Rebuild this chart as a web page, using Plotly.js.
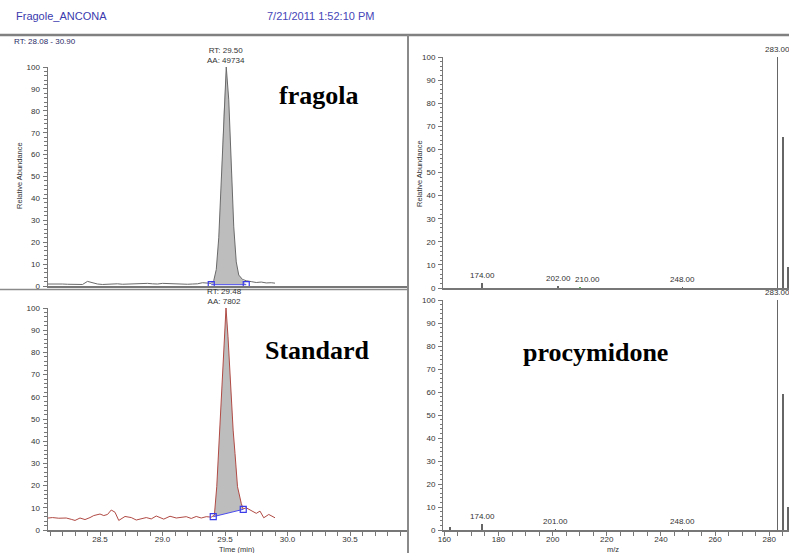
<!DOCTYPE html>
<html>
<head>
<meta charset="utf-8">
<script src="https://cdn.plot.ly/plotly-3.0.1.min.js"></script>
<style>
html,body{margin:0;padding:0;background:#fff;}
#chart{width:789px;height:553px;}
</style>
</head>
<body>
<div id="chart"></div>
<script>
// ---------- data ----------
const fileName = "Fragole_ANCONA";
const stamp = "7/21/2011 1:52:10 PM";
const rtRangeLabel = "RT: 28.08 - 30.90";

// fragola chromatogram (time, relative abundance)
const tFragola = [28.08,28.12,28.16,28.20,28.24,28.28,28.32,28.36,28.40,28.44,28.48,28.52,28.56,28.60,28.64,28.68,28.72,28.76,28.80,28.84,28.88,28.92,28.96,29.00,29.04,29.08,29.12,29.16,29.20,29.24,29.28,29.32,29.36,29.39,29.41,29.43,29.45,29.47,29.49,29.51,29.53,29.55,29.57,29.59,29.61,29.64,29.67,29.71,29.75,29.79,29.83,29.87,29.90];
const iFragola = [0.9,1.0,0.8,0.9,0.8,0.7,0.8,0.7,2.1,1.4,0.9,0.7,0.8,1.2,1.0,0.8,0.9,0.7,0.9,1.0,1.2,1.0,0.9,1.2,1.1,0.9,0.8,0.7,0.8,0.9,1.0,1.5,1.3,1.2,2.5,7.5,22,48,80,100,85,57,27,11,5,3,2.4,2.0,1.6,1.8,1.4,1.5,1.3];
const blFragolaT = [29.39, 29.67];
const blFragolaI = [0.6, 0.6];
const rtFragola = "29.50", aaFragola = "49734";

// standard chromatogram
const tStandard = [28.07,28.12,28.17,28.23,28.27,28.30,28.34,28.38,28.42,28.45,28.50,28.53,28.56,28.59,28.62,28.65,28.70,28.75,28.79,28.83,28.87,28.91,28.95,29.01,29.06,29.11,29.15,29.19,29.23,29.27,29.31,29.35,29.39,29.415,29.434,29.45,29.466,29.485,29.508,29.524,29.54,29.55,29.565,29.58,29.60,29.63,29.645,29.67,29.70,29.73,29.75,29.78,29.81,29.85,29.88,29.90];
const iStandard = [5.3,5.6,5.3,5.4,4.8,4.3,5.4,4.7,5.6,6.5,7.2,6.5,7.0,9.0,8.0,4.3,6.1,5.6,4.5,5.2,5.6,5.0,6.3,4.9,6.2,5.4,5.8,6.0,5.2,6.1,5.4,6.0,5.8,6.7,19.5,38,57,80,100,87,70,57,45,34.5,19.5,12,9.5,10,9,8,7.5,8.5,5.5,7,6,5.5];
const blStandardT = [29.406, 29.646];
const blStandardI = [6.0, 9.3];
const rtStandard = "29.48", aaStandard = "7802";

// mass spectra
const mzFragola = [174, 202, 210, 248, 283, 285, 287];
const abFragola = [2.0, 0.8, 0.5, 0.5, 100, 65.5, 9];
const labFragola = [174, 202, 210, 248, 283];
const mzStandard = [162, 174, 201, 248, 283, 285, 287];
const abStandard = [1.2, 2.5, 0.5, 0.5, 100, 59, 10];
const labStandard = [174, 201, 248, 283];

const panelLabels = ["fragola", "Standard", "procymidone"];

// ---------- geometry helpers ----------
const W = 789, H = 553;
const px = x => x / W;
const py = y => 1 - y / H;

const leftX0 = 47.5, leftX1 = 408, tStart = 28.08, pxPerMin = 125;
const tEnd = tStart + (leftX1 - leftX0) / pxPerMin;
const mzStart = 159.5, mzEnd = 287.3;

const gray = '#777';
const tickFont = {family: 'Liberation Sans, Arial, sans-serif', size: 8, color: '#333'};

function fillPoly(t, v, blT, blV) {
  const xs = [blT[0]], ys = [blV[0]];
  for (let k = 0; k < t.length; k++) {
    if (t[k] > blT[0] && t[k] < blT[1]) { xs.push(t[k]); ys.push(v[k]); }
  }
  xs.push(blT[1]); ys.push(blV[1]);
  xs.push(blT[0]); ys.push(blV[0]);
  return {xs, ys};
}
const fF = fillPoly(tFragola, iFragola, blFragolaT, blFragolaI);
const fS = fillPoly(tStandard, iStandard, blStandardT, blStandardI);

const traces = [
  {x: fF.xs, y: fF.ys, xaxis: 'x', yaxis: 'y', type: 'scatter', mode: 'lines', fill: 'toself',
   fillcolor: '#bdbdbd', line: {width: 0}, hoverinfo: 'skip'},
  {x: tFragola, y: iFragola, xaxis: 'x', yaxis: 'y', type: 'scatter', mode: 'lines',
   line: {color: '#6a6a6a', width: 1}},
  {x: blFragolaT, y: blFragolaI, xaxis: 'x', yaxis: 'y', type: 'scatter', mode: 'lines+markers',
   line: {color: '#4a4af0', width: 1}, marker: {symbol: 'square-open', size: 6, color: '#3a3ae8', line: {width: 1.2}}},

  {x: fS.xs, y: fS.ys, xaxis: 'x2', yaxis: 'y2', type: 'scatter', mode: 'lines', fill: 'toself',
   fillcolor: '#bdbdbd', line: {width: 0}, hoverinfo: 'skip'},
  {x: tStandard, y: iStandard, xaxis: 'x2', yaxis: 'y2', type: 'scatter', mode: 'lines',
   line: {color: '#b04a44', width: 1}},
  {x: blStandardT, y: blStandardI, xaxis: 'x2', yaxis: 'y2', type: 'scatter', mode: 'lines+markers',
   line: {color: '#4a4af0', width: 1}, marker: {symbol: 'square-open', size: 6, color: '#3a3ae8', line: {width: 1.2}}},

  {x: mzFragola, y: abFragola, xaxis: 'x3', yaxis: 'y3', type: 'bar', width: 0.6,
   marker: {color: mzFragola.map(m => m === 210 ? '#5cb85c' : '#666666'), line: {width: 0}}},
  {x: mzStandard, y: abStandard, xaxis: 'x4', yaxis: 'y4', type: 'bar', width: 0.6,
   marker: {color: '#666666', line: {width: 0}}}
];

function yAxis(domTop, domBot, anchor) {
  return {
    domain: [py(domBot), py(domTop)], range: [0, 100], anchor: anchor,
    tickmode: 'linear', tick0: 0, dtick: 10, ticks: 'outside', ticklen: 4, tickcolor: gray, tickwidth: 1,
    minor: {dtick: 2, tick0: 0, ticks: 'outside', ticklen: 2.5, tickcolor: gray, tickwidth: 1},
    showline: true, linecolor: gray, linewidth: 1, showgrid: false, zeroline: false,
    tickfont: tickFont, ticklabelstandoff: 1, fixedrange: true
  };
}

const layout = {
  width: W, height: H, margin: {l: 0, r: 0, t: 0, b: 0}, showlegend: false,
  paper_bgcolor: '#fff', plot_bgcolor: 'rgba(0,0,0,0)', bargap: 0,
  font: tickFont,
  xaxis: {domain: [px(leftX0), px(leftX1)], range: [tStart, tEnd], anchor: 'y',
    showticklabels: false, ticks: '', showline: true, linecolor: gray, linewidth: 1.5, showgrid: false, zeroline: false},
  yaxis: yAxis(67, 286, 'x'),
  xaxis2: {domain: [px(leftX0), px(leftX1)], range: [tStart, tEnd], anchor: 'y2',
    tickmode: 'linear', tick0: 28.5, dtick: 0.5, tickformat: '.1f', ticks: 'outside', ticklen: 4, tickcolor: gray,
    minor: {dtick: 0.1, tick0: 28.1, ticks: 'outside', ticklen: 4, tickcolor: gray},
    showline: true, linecolor: gray, linewidth: 1.5, showgrid: false, zeroline: false, tickfont: tickFont,
    ticklabelstandoff: -3},
  yaxis2: yAxis(308, 530, 'x2'),
  xaxis3: {domain: [px(443), 1], range: [mzStart, mzEnd], anchor: 'y3',
    showticklabels: false, ticks: '', showline: true, linecolor: gray, linewidth: 1.5, showgrid: false, zeroline: false},
  yaxis3: yAxis(57, 288, 'x3'),
  xaxis4: {domain: [px(443), 1], range: [mzStart, mzEnd], anchor: 'y4',
    tickmode: 'linear', tick0: 160, dtick: 20, ticks: 'outside', ticklen: 4, tickcolor: gray,
    minor: {dtick: 5, tick0: 160, ticks: 'outside', ticklen: 4, tickcolor: gray},
    showline: true, linecolor: gray, linewidth: 1.5, showgrid: false, zeroline: false, tickfont: tickFont,
    ticklabelstandoff: -3},
  yaxis4: yAxis(300, 530, 'x4'),
  shapes: [
    {type: 'line', xref: 'paper', yref: 'paper', x0: 0, x1: 1, y0: py(35), y1: py(35), line: {color: '#808080', width: 2.5}},
    {type: 'line', xref: 'paper', yref: 'paper', x0: px(408), x1: px(408), y0: py(35), y1: 0, line: {color: '#8a8a8a', width: 2}},
    {type: 'line', xref: 'paper', yref: 'paper', x0: 0, x1: px(408), y0: py(289.5), y1: py(289.5), line: {color: '#8a8a8a', width: 1.5}}
  ],
  annotations: []
};

const A = layout.annotations;
function ann(o) { A.push(Object.assign({showarrow: false, font: tickFont, xanchor: 'center', yanchor: 'middle'}, o)); }

// header
ann({xref: 'paper', yref: 'paper', x: px(14), y: py(16), xanchor: 'left', text: fileName,
     font: {family: 'Liberation Sans, Arial, sans-serif', size: 11, color: '#3a3aae'}});
ann({xref: 'paper', yref: 'paper', x: px(265), y: py(16), xanchor: 'left', text: stamp,
     font: {family: 'Liberation Sans, Arial, sans-serif', size: 11, color: '#4646b8'}});
ann({xref: 'paper', yref: 'paper', x: px(12), y: py(41.5), xanchor: 'left', text: rtRangeLabel,
     font: {family: 'Liberation Sans, Arial, sans-serif', size: 8, color: '#2b2b66'}});

// axis titles
const titleFont = {family: 'Liberation Sans, Arial, sans-serif', size: 7.5, color: '#333'};
ann({xref: 'paper', yref: 'paper', x: px(20), y: py(176), textangle: -90, text: 'Relative Abundance', font: titleFont});
ann({xref: 'paper', yref: 'paper', x: px(419), y: py(173), textangle: -90, text: 'Relative Abundance', font: titleFont});
ann({xref: 'paper', yref: 'paper', x: px(237), y: py(549.5), text: 'Time (min)', font: titleFont});
ann({xref: 'paper', yref: 'paper', x: px(613), y: py(549.5), text: 'm/z', font: titleFont});

// peak RT labels
function peakOf(t, v) { let k = 0; v.forEach((val, i) => { if (val > v[k]) k = i; }); return [t[k], v[k]]; }
const pF = peakOf(tFragola, iFragola), pS = peakOf(tStandard, iStandard);
ann({xref: 'x', yref: 'y', x: pF[0], y: pF[1], yanchor: 'bottom', text: 'RT: ' + rtFragola + '<br>AA: ' + aaFragola,
     font: {family: 'Liberation Sans, Arial, sans-serif', size: 8, color: '#333'}});
ann({xref: 'x2', yref: 'y2', x: pS[0], y: pS[1], yanchor: 'bottom', xshift: -2, text: 'RT: ' + rtStandard + '<br>AA: ' + aaStandard,
     font: {family: 'Liberation Sans, Arial, sans-serif', size: 8, color: '#333'}});

// spectrum peak labels
function specLabels(mz, ab, labs, xr, yr) {
  labs.forEach(m => {
    const k = mz.indexOf(m);
    ann({xref: xr, yref: yr, x: m, y: ab[k], yanchor: 'bottom', yshift: 1, xshift: (m === 210 ? 8 : 0),
         text: m.toFixed(2), font: {family: 'Liberation Sans, Arial, sans-serif', size: 8, color: '#333'}});
  });
}
specLabels(mzFragola, abFragola, labFragola, 'x3', 'y3');
specLabels(mzStandard, abStandard, labStandard, 'x4', 'y4');

// panel names
const bigFont = {family: 'Liberation Serif, Times New Roman, serif', size: 26, color: '#000'};
ann({xref: 'paper', yref: 'paper', x: px(318), y: py(96), text: '<b>' + panelLabels[0] + '</b>', font: bigFont});
ann({xref: 'paper', yref: 'paper', x: px(317), y: py(350), text: '<b>' + panelLabels[1] + '</b>', font: bigFont});
ann({xref: 'paper', yref: 'paper', x: px(595), y: py(352), text: '<b>' + panelLabels[2] + '</b>', font: bigFont});

Plotly.newPlot('chart', traces, layout, {staticPlot: true, displayModeBar: false});
</script>
</body>
</html>
